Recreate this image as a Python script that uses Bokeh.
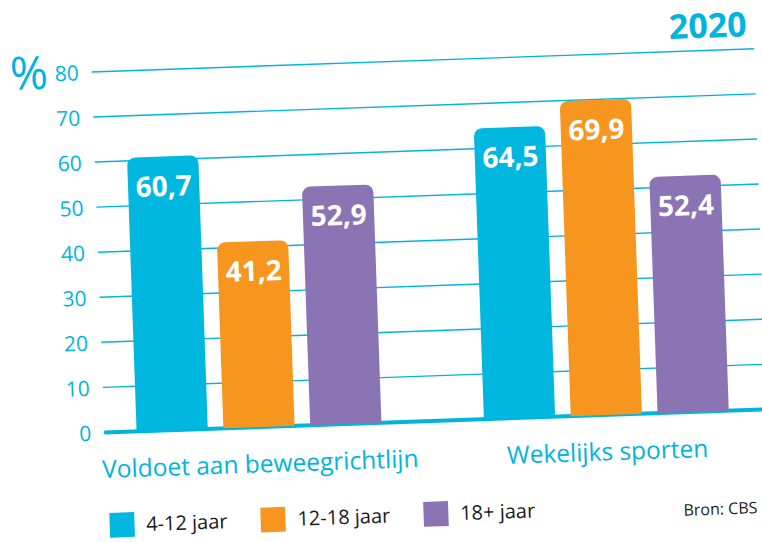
from bokeh.plotting import figure
from bokeh.models import Range1d, Label, Legend, LegendItem, ColumnDataSource
from bokeh.core.properties import value
from bokeh.embed import file_html
from bokeh.resources import INLINE

# ---- data ----
categories = ["Voldoet aan beweegrichtlijn", "Wekelijks sporten"]
groups = ["4-12 jaar", "12-18 jaar", "18+ jaar"]
values_4_12 = [60.7, 64.5]
values_12_18 = [41.2, 69.9]
values_18plus = [52.9, 52.4]
y_ticks = [0, 10, 20, 30, 40, 50, 60, 70, 80]
year = "2020"
source_note = "Bron: CBS"

series = [values_4_12, values_12_18, values_18plus]
colors = ["#00B7E0", "#F6961F", "#8A74B4"]
offsets = [-0.25, 0.0, 0.25]
CYAN = "#00B4DE"
FONT = "Open Sans"

# The original graphic is tilted by about 2 degrees. The page is rotated with CSS;
# Bokeh then sizes its canvas to the rotated bounding box (about 762 x 542 here).
W, H = 744, 516
X0, X1 = -0.727, 1.4626
p = figure(width=W, height=H, output_backend="svg", toolbar_location=None,
           x_range=Range1d(X0, X1), y_range=Range1d(-26.28, 93.70),
           x_axis_location=None, y_axis_location=None, min_border=0,
           outline_line_color=None, background_fill_color="white",
           border_fill_color="white")
p.xgrid.visible = False
p.ygrid.visible = False
p.styles = {"transform": "rotate(-2deg)", "transform-origin": "50% 50%"}

GRID_X0 = -0.4454
LABEL_X = -0.483
p.segment(x0=[GRID_X0] * len(y_ticks), x1=[X1] * len(y_ticks), y0=y_ticks, y1=y_ticks,
          line_color=CYAN, line_width=1.4)
p.text(x=[LABEL_X] * len(y_ticks), y=y_ticks, text=[str(t) for t in y_ticks],
       text_color=CYAN, text_font=value(FONT), text_font_size="21px",
       text_align="right", text_baseline="middle")
p.segment(x0=[GRID_X0], x1=[X1], y0=[0], y1=[0], line_color=CYAN, line_width=4)

cat_x = list(range(len(categories)))
items = []
for name, vals, col, off in zip(groups, series, colors, offsets):
    src = ColumnDataSource(dict(
        x=[c + off for c in cat_x], top=vals,
        label=[f"{v:.1f}".replace(".", ",") for v in vals]))
    r = p.vbar(x="x", top="top", bottom=0, width=0.205, source=src,
               fill_color=col, line_color=None, border_radius=(8, 8, 0, 0))
    p.text(x="x", y="top", text="label", source=src, text_color="white",
           text_font=value(FONT), text_font_style="bold", text_font_size="28px",
           text_align="center", text_baseline="middle", y_offset=29)
    items.append(LegendItem(label=name, renderers=[r]))

p.text(x=cat_x, y=[0, 0], text=categories, y_offset=36, text_color=CYAN,
       text_font=value(FONT), text_font_size="24.5px", text_align="center",
       text_baseline="middle")

legend = Legend(items=items, orientation="horizontal", location=(97, 10),
                glyph_width=31, glyph_height=31, label_standoff=9, spacing=30,
                padding=0, margin=0, border_line_color=None,
                background_fill_alpha=0, label_text_font=FONT,
                label_text_font_size="20px", label_text_color="#1A1A1A")
p.add_layout(legend)

p.add_layout(Label(x=35, y=482, x_units="screen", y_units="screen", text="%",
                   text_font=FONT, text_font_size="46px", text_color=CYAN,
                   text_align="center", text_baseline="middle"))
p.add_layout(Label(x=754, y=504, x_units="screen", y_units="screen", text=year,
                   text_font=FONT, text_font_size="34px", text_font_style="bold",
                   text_color=CYAN, text_align="right", text_baseline="middle"))
p.add_layout(Label(x=674, y=21, x_units="screen", y_units="screen", text=source_note,
                   text_font=FONT, text_font_size="16px", text_color="#1A1A1A",
                   text_align="left", text_baseline="middle"))

open("out.html", "w").write(file_html(p, INLINE))
